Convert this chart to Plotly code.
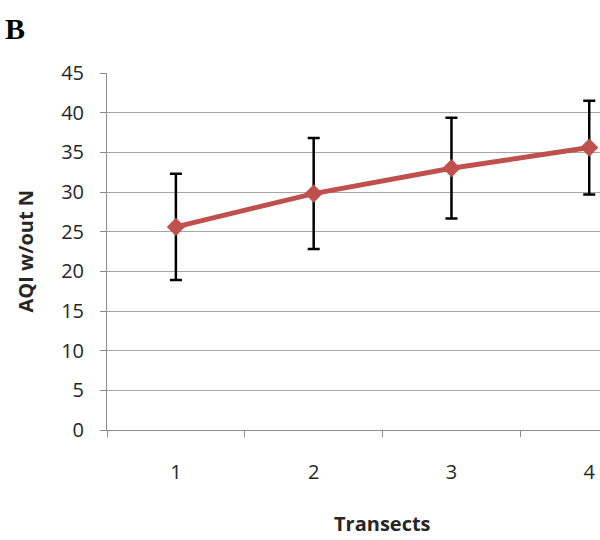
import plotly.graph_objects as go

# Mean AQI (without N) per transect, with error bar half-widths
transects = [1, 2, 3, 4]
tick_labels = ["1", "2", "3", "4"]
aqi_mean = [25.6, 29.8, 33.0, 35.6]
aqi_err = [6.7, 7.0, 6.35, 5.9]
y_ticks = [0, 5, 10, 15, 20, 25, 30, 35, 40, 45]
category_edges = [0.5, 1.5, 2.5, 3.5, 4.5]

GRID = "#a6a6a6"
AXIS = "#8c8c8c"
TEXT = "#262626"
FONT = "Open Sans"

fig = go.Figure()

fig.add_trace(go.Scatter(
    x=transects,
    y=aqi_mean,
    mode="lines+markers",
    line=dict(color="#c0504d", width=5),
    marker=dict(symbol="diamond", size=14, color="#c0504d"),
    error_y=dict(type="data", array=aqi_err, visible=True,
                 color="black", thickness=2.5, width=6),
    showlegend=False,
))

x_range = [0.5, 4.078]

fig.update_layout(
    width=600,
    height=540,
    margin=dict(l=107, r=0, t=73, b=110),
    paper_bgcolor="white",
    plot_bgcolor="white",
    font=dict(family=FONT, size=20, color=TEXT),
    xaxis=dict(
        range=x_range,
        tickmode="array",
        tickvals=transects,
        ticktext=tick_labels,
        ticks="outside",
        ticklen=24,
        tickcolor="rgba(0,0,0,0)",
        showgrid=False,
        zeroline=False,
        showline=True,
        linecolor=AXIS,
        linewidth=1,
        tickfont=dict(family=FONT, size=20, color=TEXT),
    ),
    xaxis2=dict(
        overlaying="x",
        range=x_range,
        tickmode="array",
        tickvals=category_edges,
        ticks="outside",
        ticklen=6,
        tickcolor=AXIS,
        showticklabels=False,
        showgrid=False,
        zeroline=False,
        side="bottom",
    ),
    yaxis=dict(
        range=[0, 45],
        tickmode="array",
        tickvals=y_ticks,
        ticks="outside",
        ticklen=6,
        tickcolor=AXIS,
        ticklabelstandoff=12,
        showgrid=True,
        gridcolor=GRID,
        gridwidth=1,
        zeroline=False,
        showline=True,
        linecolor=AXIS,
        linewidth=1,
        tickfont=dict(family=FONT, size=20, color=TEXT),
    ),
    annotations=[
        dict(text="<b>B</b>", xref="paper", yref="paper",
             x=-107 / 493 + 3 / 493, y=1 + 63 / 357,
             xanchor="left", yanchor="top", showarrow=False,
             font=dict(family="Liberation Serif", size=30, color="black")),
        dict(text="<b>Transects</b>", xref="paper", yref="paper",
             x=(382 - 107) / 493, y=-(523 - 430) / 357,
             xanchor="center", yanchor="middle", showarrow=False,
             font=dict(family=FONT, size=20, color=TEXT)),
        dict(text="<b>AQI w/out N</b>", xref="paper", yref="paper",
             x=-(107 - 25) / 493, y=0.5, textangle=-90,
             xanchor="center", yanchor="middle", showarrow=False,
             font=dict(family=FONT, size=20, color=TEXT)),
    ],
)

# invisible trace so the edge-tick axis is drawn
fig.add_trace(go.Scatter(x=[], y=[], xaxis="x2", showlegend=False))

fig.write_html("out.html")
